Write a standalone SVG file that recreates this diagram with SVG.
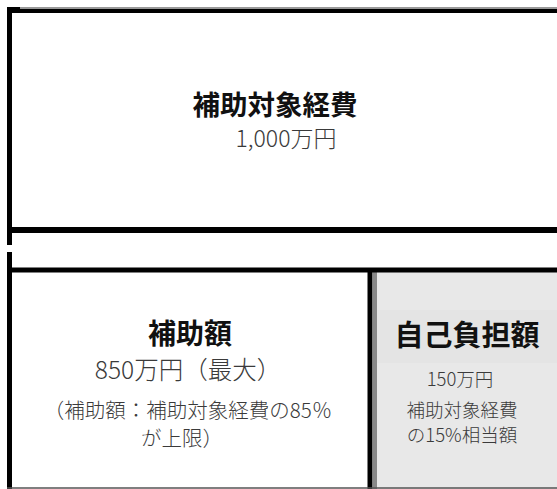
<svg xmlns="http://www.w3.org/2000/svg" width="557" height="489" viewBox="0 0 557 489">
<style>
.t{font-family:"Noto Sans CJK JP","Noto Sans",sans-serif;text-anchor:middle}
.h{font-weight:bold;fill:#111}
.s{fill:#3a3a3a;font-weight:300}
.bl{stroke:#000;fill:none}
</style>
<rect x="0" y="0" width="557" height="489" fill="#fff"/>
<g id="total">
<line x1="7" y1="8" x2="557" y2="8" stroke="#999" stroke-width="2"/>
<line x1="7" y1="11" x2="557" y2="11" class="bl" stroke-width="4"/>
<rect x="7" y="7" width="13" height="6" fill="#000"/>
<line x1="9.5" y1="7" x2="9.5" y2="233" class="bl" stroke-width="5"/>
<line x1="7" y1="230" x2="557" y2="230" class="bl" stroke-width="6"/>
<text class="t h" x="275" y="115" font-size="27.5">補助対象経費</text>
<text class="t s" x="286" y="147" font-size="23">1,000万円</text>
</g>
<g id="connectors">
<line x1="9.5" y1="233" x2="9.5" y2="245" class="bl" stroke-width="5"/>
<line x1="9.5" y1="252" x2="9.5" y2="270" class="bl" stroke-width="5"/>
</g>
<g id="self">
<rect x="373" y="270" width="184" height="219" fill="#e8e8e8"/>
<rect x="377" y="310" width="180" height="53" fill="#e4e4e4"/>
<line x1="375" y1="272" x2="375" y2="489" stroke="#888" stroke-width="4"/>
<text class="t h" x="467" y="346" font-size="29">自己負担額</text>
<text class="t s" x="460" y="386" font-size="18.5">150万円</text>
<text class="t s" x="462" y="417" font-size="18.5">補助対象経費</text>
<text class="t s" x="462" y="442" font-size="18.5">の15%相当額</text>
</g>
<g id="subsidy">
<line x1="7" y1="270" x2="557" y2="270" class="bl" stroke-width="5"/>
<line x1="9.5" y1="268" x2="9.5" y2="489" class="bl" stroke-width="5"/>
<line x1="370" y1="268" x2="370" y2="489" class="bl" stroke-width="5"/>
<line x1="7" y1="488" x2="557" y2="488" stroke="#555" stroke-width="1.5"/>
<text class="t h" x="190" y="344" font-size="28">補助額</text>
<text class="t s" x="188" y="379" font-size="24.5">850万円（最大）</text>
<text class="t s" x="188" y="418" font-size="20.5">（補助額：補助対象経費の85％</text>
<text class="t s" x="182" y="446" font-size="20.5">が上限）</text>
</g>
</svg>
